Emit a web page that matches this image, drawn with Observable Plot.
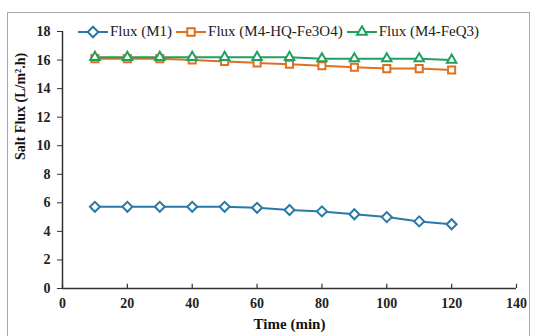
<!DOCTYPE html>
<html>
<head>
<meta charset="utf-8">
<script src="https://cdn.jsdelivr.net/npm/d3@7"></script>
<script src="https://cdn.jsdelivr.net/npm/@observablehq/plot@0.6"></script>
<style>
  body { margin: 0; background: #fff; }
  #wrap { position: relative; width: 533px; height: 336px; overflow: hidden; }
  #frame { position: absolute; left: 7px; top: 12px; width: 523px; height: 340px; border: 1px solid #a8a8a8; box-sizing: border-box; pointer-events: none; }
  #legend { position: absolute; left: 78px; top: 23px; display: flex; gap: 4px; font-family: "Liberation Serif", serif; font-size: 15px; color: #222; align-items: center; }
  #legend .item { display: flex; align-items: center; gap: 2px; }
  #legend svg { display: block; }
</style>
</head>
<body>
<div id="wrap"><div id="frame"></div><div id="legend"></div></div>
<script>
const times = [10, 20, 30, 40, 50, 60, 70, 80, 90, 100, 110, 120];
const seriesNames = ["Flux (M1)", "Flux (M4-HQ-Fe3O4)", "Flux (M4-FeQ3)"];
const fluxM1 = [5.72, 5.72, 5.72, 5.72, 5.72, 5.65, 5.5, 5.4, 5.2, 5.0, 4.7, 4.5];
const fluxHQ = [16.1, 16.1, 16.1, 16.0, 15.9, 15.8, 15.7, 15.6, 15.5, 15.4, 15.4, 15.3];
const fluxFeQ3 = [16.2, 16.2, 16.2, 16.2, 16.2, 16.2, 16.2, 16.1, 16.1, 16.1, 16.1, 16.0];
const colors = ["#2b78a6", "#e07020", "#20a060"];
const symbols = ["diamond2", "square2", "triangle2"];
const xTicks = [0, 20, 40, 60, 80, 100, 120, 140];
const yTicks = [0, 2, 4, 6, 8, 10, 12, 14, 16, 18];

const allSeries = [fluxM1, fluxHQ, fluxFeQ3];
const data = [];
allSeries.forEach((vals, i) => vals.forEach((v, j) => data.push({time: times[j], flux: v, series: seriesNames[i]})));

const font = "Liberation Serif, Times New Roman, serif";
const chart = Plot.plot({
  width: 533, height: 336,
  marginLeft: 62, marginRight: 17, marginTop: 31, marginBottom: 48,
  style: {fontFamily: font, fontSize: "14px", fontWeight: "bold", color: "#222", background: "transparent"},
  x: {domain: [0, 140]},
  y: {domain: [0, 18]},
  color: {domain: seriesNames, range: colors},
  symbol: {domain: seriesNames, range: symbols},
  marks: [
    Plot.axisX({ticks: xTicks, tickSize: 0, tickPadding: 10, label: null, fontSize: 14, fontWeight: "bold"}),
    Plot.ruleX(xTicks, {x: d => d, y1: 0, y2: 0.3, stroke: "#333", strokeWidth: 1.2}),
    Plot.axisY({ticks: yTicks, tickSize: 5, tickPadding: 7, label: null, fontSize: 14, fontWeight: "bold", stroke: "#333"}),
    Plot.ruleX([0], {stroke: "#333", strokeWidth: 1.5}),
    Plot.ruleY([0], {stroke: "#333", strokeWidth: 1.5}),
    Plot.text(["Time (min)"], {frameAnchor: "bottom", dy: 40, fontSize: 15, fontWeight: "bold", fill: "#111"}),
    Plot.text(["Salt Flux (L/m².h)"], {frameAnchor: "left", dx: -42, rotate: -90, fontSize: 14, fontWeight: "bold", fill: "#111"}),
    Plot.line(data, {x: "time", y: "flux", z: "series", stroke: "series", strokeWidth: 2}),
    Plot.dot(data, {x: "time", y: "flux", symbol: "series", stroke: "series", fill: "white", r: 4.5, strokeWidth: 2})
  ]
});
document.getElementById("wrap").appendChild(chart);
chart.style.position = "absolute";
chart.style.left = "0";
chart.style.top = "0";

const legend = document.getElementById("legend");
const symGen = {diamond2: d3.symbolDiamond2, square2: d3.symbolSquare2, triangle2: d3.symbolTriangle2};
seriesNames.forEach((name, i) => {
  const item = document.createElement("div");
  item.className = "item";
  const w = 30;
  const path = d3.symbol(symGen[symbols[i]], 70)();
  item.innerHTML = `<svg width="${w}" height="14"><line x1="0" x2="${w}" y1="7" y2="7" stroke="${colors[i]}" stroke-width="2"/><path d="${path}" transform="translate(${w/2},7)" fill="white" stroke="${colors[i]}" stroke-width="2"/></svg><span>${name}</span>`;
  legend.appendChild(item);
});
</script>
</body>
</html>
